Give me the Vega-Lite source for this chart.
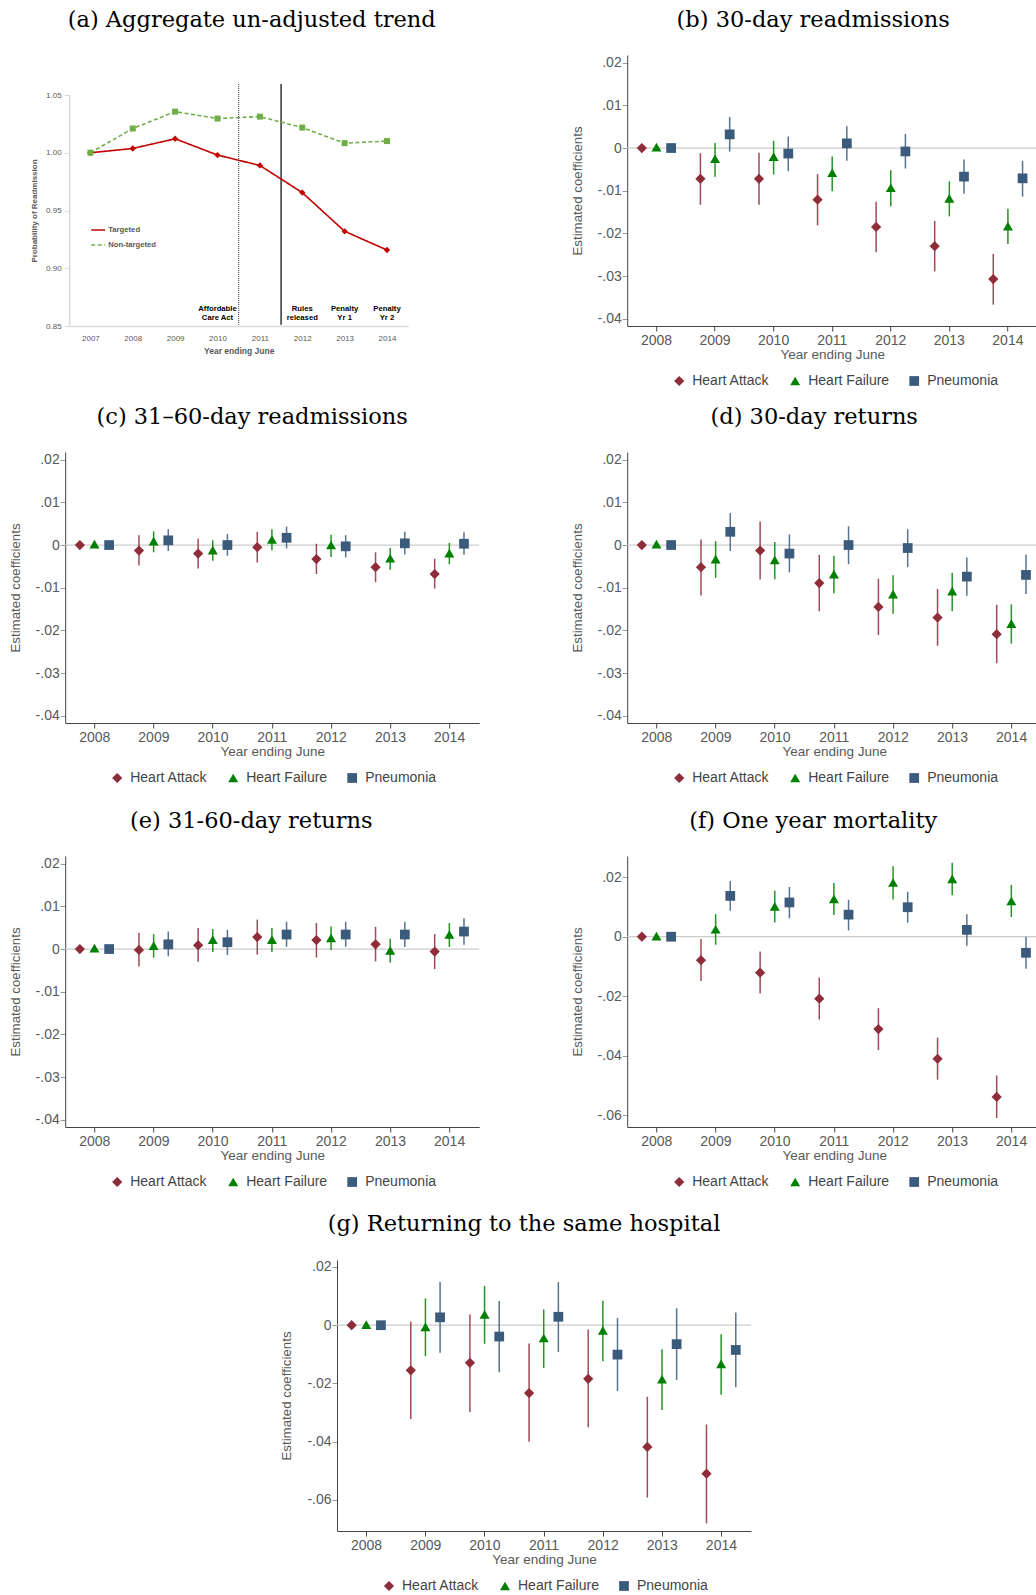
{
  "$schema": "https://vega.github.io/schema/vega-lite/v6.json",
  "padding": {"left": 8, "top": 8, "right": 0, "bottom": 0},
  "background": "white",
  "center": true,
  "spacing": 17,
  "resolve": {"scale": {"color": "independent", "shape": "independent", "size": "independent", "strokeDash": "independent"}, "legend": {"color": "independent", "shape": "independent", "strokeDash": "independent"}},
  "config": {
    "font": "Liberation Sans",
    "view": {"stroke": null},
    "title": {"font": "DejaVu Serif", "fontSize": 22.5, "fontWeight": "normal", "color": "#000000", "offset": 24},
    "axis": {"grid": false, "labelFont": "Liberation Sans", "titleFont": "Liberation Sans", "domainColor": "#444444", "tickColor": "#444444", "labelColor": "#595959", "titleColor": "#595959", "titleFontWeight": "normal"},
    "legend": {"padding": 0}
  },
  "datasets": {
    "trend": [
      {"year": 2007, "series": "Targeted", "value": 1.000},
      {"year": 2008, "series": "Targeted", "value": 1.0037},
      {"year": 2009, "series": "Targeted", "value": 1.0121},
      {"year": 2010, "series": "Targeted", "value": 0.998},
      {"year": 2011, "series": "Targeted", "value": 0.989},
      {"year": 2012, "series": "Targeted", "value": 0.9655},
      {"year": 2013, "series": "Targeted", "value": 0.932},
      {"year": 2014, "series": "Targeted", "value": 0.9158},
      {"year": 2007, "series": "Non-targeted", "value": 1.000},
      {"year": 2008, "series": "Non-targeted", "value": 1.021},
      {"year": 2009, "series": "Non-targeted", "value": 1.0356},
      {"year": 2010, "series": "Non-targeted", "value": 1.0296},
      {"year": 2011, "series": "Non-targeted", "value": 1.0313},
      {"year": 2012, "series": "Non-targeted", "value": 1.0218},
      {"year": 2013, "series": "Non-targeted", "value": 1.0083},
      {"year": 2014, "series": "Non-targeted", "value": 1.0101}
    ],
    "events": [
      {"x": 2010.5, "kind": "aca"},
      {"x": 2011.5, "kind": "rules"}
    ],
    "notes": [
      {"year": 2010, "label": ["Affordable", "Care Act"]},
      {"year": 2012, "label": ["Rules", "released"]},
      {"year": 2013, "label": ["Penalty", "Yr 1"]},
      {"year": 2014, "label": ["Penalty", "Yr 2"]}
    ],
    "coef": [
      {"p": "b", "year": "2008", "cond": "Heart Attack", "est": 0, "lo": 0, "hi": 0},
      {"p": "b", "year": "2008", "cond": "Heart Failure", "est": 0.0002, "lo": 0.0002, "hi": 0.0002},
      {"p": "b", "year": "2008", "cond": "Pneumonia", "est": 0, "lo": 0, "hi": 0},
      {"p": "b", "year": "2009", "cond": "Heart Attack", "est": -0.0072, "lo": -0.0133, "hi": -0.0012},
      {"p": "b", "year": "2009", "cond": "Heart Failure", "est": -0.0025, "lo": -0.0067, "hi": 0.0012},
      {"p": "b", "year": "2009", "cond": "Pneumonia", "est": 0.0032, "lo": -0.0008, "hi": 0.0073},
      {"p": "b", "year": "2010", "cond": "Heart Attack", "est": -0.0072, "lo": -0.0133, "hi": -0.0011},
      {"p": "b", "year": "2010", "cond": "Heart Failure", "est": -0.0020, "lo": -0.0062, "hi": 0.0017},
      {"p": "b", "year": "2010", "cond": "Pneumonia", "est": -0.0013, "lo": -0.0054, "hi": 0.0027},
      {"p": "b", "year": "2011", "cond": "Heart Attack", "est": -0.0121, "lo": -0.0181, "hi": -0.0061},
      {"p": "b", "year": "2011", "cond": "Heart Failure", "est": -0.0058, "lo": -0.0101, "hi": -0.0020},
      {"p": "b", "year": "2011", "cond": "Pneumonia", "est": 0.0011, "lo": -0.0030, "hi": 0.0051},
      {"p": "b", "year": "2012", "cond": "Heart Attack", "est": -0.0185, "lo": -0.0244, "hi": -0.0126},
      {"p": "b", "year": "2012", "cond": "Heart Failure", "est": -0.0093, "lo": -0.0137, "hi": -0.0052},
      {"p": "b", "year": "2012", "cond": "Pneumonia", "est": -0.0008, "lo": -0.0048, "hi": 0.0033},
      {"p": "b", "year": "2013", "cond": "Heart Attack", "est": -0.0230, "lo": -0.0289, "hi": -0.0171},
      {"p": "b", "year": "2013", "cond": "Heart Failure", "est": -0.0118, "lo": -0.0160, "hi": -0.0078},
      {"p": "b", "year": "2013", "cond": "Pneumonia", "est": -0.0067, "lo": -0.0107, "hi": -0.0027},
      {"p": "b", "year": "2014", "cond": "Heart Attack", "est": -0.0307, "lo": -0.0367, "hi": -0.0248},
      {"p": "b", "year": "2014", "cond": "Heart Failure", "est": -0.0183, "lo": -0.0225, "hi": -0.0142},
      {"p": "b", "year": "2014", "cond": "Pneumonia", "est": -0.0071, "lo": -0.0114, "hi": -0.0030},

      {"p": "c", "year": "2008", "cond": "Heart Attack", "est": 0, "lo": 0, "hi": 0},
      {"p": "c", "year": "2008", "cond": "Heart Failure", "est": 0.0002, "lo": 0.0002, "hi": 0.0002},
      {"p": "c", "year": "2008", "cond": "Pneumonia", "est": 0, "lo": 0, "hi": 0},
      {"p": "c", "year": "2009", "cond": "Heart Attack", "est": -0.0013, "lo": -0.0048, "hi": 0.0023},
      {"p": "c", "year": "2009", "cond": "Heart Failure", "est": 0.0009, "lo": -0.0017, "hi": 0.0032},
      {"p": "c", "year": "2009", "cond": "Pneumonia", "est": 0.0011, "lo": -0.0014, "hi": 0.0037},
      {"p": "c", "year": "2010", "cond": "Heart Attack", "est": -0.0020, "lo": -0.0055, "hi": 0.0015},
      {"p": "c", "year": "2010", "cond": "Heart Failure", "est": -0.0012, "lo": -0.0037, "hi": 0.0011},
      {"p": "c", "year": "2010", "cond": "Pneumonia", "est": 0.0000, "lo": -0.0025, "hi": 0.0026},
      {"p": "c", "year": "2011", "cond": "Heart Attack", "est": -0.0005, "lo": -0.0041, "hi": 0.0031},
      {"p": "c", "year": "2011", "cond": "Heart Failure", "est": 0.0013, "lo": -0.0012, "hi": 0.0037},
      {"p": "c", "year": "2011", "cond": "Pneumonia", "est": 0.0017, "lo": -0.0008, "hi": 0.0043},
      {"p": "c", "year": "2012", "cond": "Heart Attack", "est": -0.0033, "lo": -0.0068, "hi": 0.0003},
      {"p": "c", "year": "2012", "cond": "Heart Failure", "est": 0.0000, "lo": -0.0028, "hi": 0.0024},
      {"p": "c", "year": "2012", "cond": "Pneumonia", "est": -0.0003, "lo": -0.0029, "hi": 0.0023},
      {"p": "c", "year": "2013", "cond": "Heart Attack", "est": -0.0052, "lo": -0.0087, "hi": -0.0017},
      {"p": "c", "year": "2013", "cond": "Heart Failure", "est": -0.0031, "lo": -0.0058, "hi": -0.0007},
      {"p": "c", "year": "2013", "cond": "Pneumonia", "est": 0.0004, "lo": -0.0022, "hi": 0.0031},
      {"p": "c", "year": "2014", "cond": "Heart Attack", "est": -0.0068, "lo": -0.0102, "hi": -0.0032},
      {"p": "c", "year": "2014", "cond": "Heart Failure", "est": -0.0019, "lo": -0.0045, "hi": 0.0005},
      {"p": "c", "year": "2014", "cond": "Pneumonia", "est": 0.0003, "lo": -0.0023, "hi": 0.0030},

      {"p": "d", "year": "2008", "cond": "Heart Attack", "est": 0, "lo": 0, "hi": 0},
      {"p": "d", "year": "2008", "cond": "Heart Failure", "est": 0.0002, "lo": 0.0002, "hi": 0.0002},
      {"p": "d", "year": "2008", "cond": "Pneumonia", "est": 0, "lo": 0, "hi": 0},
      {"p": "d", "year": "2009", "cond": "Heart Attack", "est": -0.0052, "lo": -0.0118, "hi": 0.0013},
      {"p": "d", "year": "2009", "cond": "Heart Failure", "est": -0.0033, "lo": -0.0077, "hi": 0.0009},
      {"p": "d", "year": "2009", "cond": "Pneumonia", "est": 0.0031, "lo": -0.0014, "hi": 0.0075},
      {"p": "d", "year": "2010", "cond": "Heart Attack", "est": -0.0013, "lo": -0.0081, "hi": 0.0055},
      {"p": "d", "year": "2010", "cond": "Heart Failure", "est": -0.0035, "lo": -0.0080, "hi": 0.0007},
      {"p": "d", "year": "2010", "cond": "Pneumonia", "est": -0.0020, "lo": -0.0064, "hi": 0.0025},
      {"p": "d", "year": "2011", "cond": "Heart Attack", "est": -0.0089, "lo": -0.0155, "hi": -0.0023},
      {"p": "d", "year": "2011", "cond": "Heart Failure", "est": -0.0068, "lo": -0.0113, "hi": -0.0025},
      {"p": "d", "year": "2011", "cond": "Pneumonia", "est": 0.0000, "lo": -0.0045, "hi": 0.0044},
      {"p": "d", "year": "2012", "cond": "Heart Attack", "est": -0.0145, "lo": -0.0211, "hi": -0.0079},
      {"p": "d", "year": "2012", "cond": "Heart Failure", "est": -0.0115, "lo": -0.0161, "hi": -0.0071},
      {"p": "d", "year": "2012", "cond": "Pneumonia", "est": -0.0007, "lo": -0.0052, "hi": 0.0037},
      {"p": "d", "year": "2013", "cond": "Heart Attack", "est": -0.0170, "lo": -0.0236, "hi": -0.0103},
      {"p": "d", "year": "2013", "cond": "Heart Failure", "est": -0.0108, "lo": -0.0155, "hi": -0.0065},
      {"p": "d", "year": "2013", "cond": "Pneumonia", "est": -0.0074, "lo": -0.0119, "hi": -0.0029},
      {"p": "d", "year": "2014", "cond": "Heart Attack", "est": -0.0209, "lo": -0.0277, "hi": -0.0140},
      {"p": "d", "year": "2014", "cond": "Heart Failure", "est": -0.0184, "lo": -0.0231, "hi": -0.0139},
      {"p": "d", "year": "2014", "cond": "Pneumonia", "est": -0.0070, "lo": -0.0115, "hi": -0.0023},

      {"p": "e", "year": "2008", "cond": "Heart Attack", "est": 0, "lo": 0, "hi": 0},
      {"p": "e", "year": "2008", "cond": "Heart Failure", "est": 0.0002, "lo": 0.0002, "hi": 0.0002},
      {"p": "e", "year": "2008", "cond": "Pneumonia", "est": 0, "lo": 0, "hi": 0},
      {"p": "e", "year": "2009", "cond": "Heart Attack", "est": -0.0002, "lo": -0.0041, "hi": 0.0038},
      {"p": "e", "year": "2009", "cond": "Heart Failure", "est": 0.0008, "lo": -0.0020, "hi": 0.0035},
      {"p": "e", "year": "2009", "cond": "Pneumonia", "est": 0.0011, "lo": -0.0017, "hi": 0.0041},
      {"p": "e", "year": "2010", "cond": "Heart Attack", "est": 0.0009, "lo": -0.0030, "hi": 0.0049},
      {"p": "e", "year": "2010", "cond": "Heart Failure", "est": 0.0022, "lo": -0.0007, "hi": 0.0047},
      {"p": "e", "year": "2010", "cond": "Pneumonia", "est": 0.0016, "lo": -0.0014, "hi": 0.0045},
      {"p": "e", "year": "2011", "cond": "Heart Attack", "est": 0.0028, "lo": -0.0013, "hi": 0.0069},
      {"p": "e", "year": "2011", "cond": "Heart Failure", "est": 0.0022, "lo": -0.0007, "hi": 0.0049},
      {"p": "e", "year": "2011", "cond": "Pneumonia", "est": 0.0034, "lo": 0.0005, "hi": 0.0064},
      {"p": "e", "year": "2012", "cond": "Heart Attack", "est": 0.0021, "lo": -0.0020, "hi": 0.0061},
      {"p": "e", "year": "2012", "cond": "Heart Failure", "est": 0.0026, "lo": -0.0002, "hi": 0.0053},
      {"p": "e", "year": "2012", "cond": "Pneumonia", "est": 0.0034, "lo": 0.0005, "hi": 0.0064},
      {"p": "e", "year": "2013", "cond": "Heart Attack", "est": 0.0011, "lo": -0.0029, "hi": 0.0052},
      {"p": "e", "year": "2013", "cond": "Heart Failure", "est": -0.0003, "lo": -0.0032, "hi": 0.0024},
      {"p": "e", "year": "2013", "cond": "Pneumonia", "est": 0.0034, "lo": 0.0005, "hi": 0.0064},
      {"p": "e", "year": "2014", "cond": "Heart Attack", "est": -0.0006, "lo": -0.0047, "hi": 0.0035},
      {"p": "e", "year": "2014", "cond": "Heart Failure", "est": 0.0034, "lo": 0.0005, "hi": 0.0061},
      {"p": "e", "year": "2014", "cond": "Pneumonia", "est": 0.0041, "lo": 0.0010, "hi": 0.0072},

      {"p": "f", "year": "2008", "cond": "Heart Attack", "est": 0, "lo": 0, "hi": 0},
      {"p": "f", "year": "2008", "cond": "Heart Failure", "est": 0.0002, "lo": 0.0002, "hi": 0.0002},
      {"p": "f", "year": "2008", "cond": "Pneumonia", "est": 0, "lo": 0, "hi": 0},
      {"p": "f", "year": "2009", "cond": "Heart Attack", "est": -0.0079, "lo": -0.0149, "hi": -0.0008},
      {"p": "f", "year": "2009", "cond": "Heart Failure", "est": 0.0025, "lo": -0.0027, "hi": 0.0076},
      {"p": "f", "year": "2009", "cond": "Pneumonia", "est": 0.0137, "lo": 0.0087, "hi": 0.0187},
      {"p": "f", "year": "2010", "cond": "Heart Attack", "est": -0.0121, "lo": -0.0191, "hi": -0.0050},
      {"p": "f", "year": "2010", "cond": "Heart Failure", "est": 0.0102, "lo": 0.0048, "hi": 0.0154},
      {"p": "f", "year": "2010", "cond": "Pneumonia", "est": 0.0115, "lo": 0.0062, "hi": 0.0167},
      {"p": "f", "year": "2011", "cond": "Heart Attack", "est": -0.0208, "lo": -0.0278, "hi": -0.0137},
      {"p": "f", "year": "2011", "cond": "Heart Failure", "est": 0.0127, "lo": 0.0073, "hi": 0.0180},
      {"p": "f", "year": "2011", "cond": "Pneumonia", "est": 0.0074, "lo": 0.0021, "hi": 0.0124},
      {"p": "f", "year": "2012", "cond": "Heart Attack", "est": -0.0310, "lo": -0.0381, "hi": -0.0240},
      {"p": "f", "year": "2012", "cond": "Heart Failure", "est": 0.0182, "lo": 0.0125, "hi": 0.0237},
      {"p": "f", "year": "2012", "cond": "Pneumonia", "est": 0.0099, "lo": 0.0047, "hi": 0.0151},
      {"p": "f", "year": "2013", "cond": "Heart Attack", "est": -0.0410, "lo": -0.0480, "hi": -0.0339},
      {"p": "f", "year": "2013", "cond": "Heart Failure", "est": 0.0194, "lo": 0.0139, "hi": 0.0248},
      {"p": "f", "year": "2013", "cond": "Pneumonia", "est": 0.0023, "lo": -0.0030, "hi": 0.0075},
      {"p": "f", "year": "2014", "cond": "Heart Attack", "est": -0.0538, "lo": -0.0609, "hi": -0.0466},
      {"p": "f", "year": "2014", "cond": "Heart Failure", "est": 0.0120, "lo": 0.0066, "hi": 0.0174},
      {"p": "f", "year": "2014", "cond": "Pneumonia", "est": -0.0054, "lo": -0.0108, "hi": 0.0000},

      {"p": "g", "year": "2008", "cond": "Heart Attack", "est": 0, "lo": 0, "hi": 0},
      {"p": "g", "year": "2008", "cond": "Heart Failure", "est": 0.0002, "lo": 0.0002, "hi": 0.0002},
      {"p": "g", "year": "2008", "cond": "Pneumonia", "est": 0, "lo": 0, "hi": 0},
      {"p": "g", "year": "2009", "cond": "Heart Attack", "est": -0.0155, "lo": -0.0322, "hi": 0.0013},
      {"p": "g", "year": "2009", "cond": "Heart Failure", "est": -0.0006, "lo": -0.0106, "hi": 0.0092},
      {"p": "g", "year": "2009", "cond": "Pneumonia", "est": 0.0027, "lo": -0.0095, "hi": 0.0148},
      {"p": "g", "year": "2010", "cond": "Heart Attack", "est": -0.0129, "lo": -0.0298, "hi": 0.0037},
      {"p": "g", "year": "2010", "cond": "Heart Failure", "est": 0.0037, "lo": -0.0064, "hi": 0.0135},
      {"p": "g", "year": "2010", "cond": "Pneumonia", "est": -0.0039, "lo": -0.0162, "hi": 0.0083},
      {"p": "g", "year": "2011", "cond": "Heart Attack", "est": -0.0233, "lo": -0.0400, "hi": -0.0063},
      {"p": "g", "year": "2011", "cond": "Heart Failure", "est": -0.0044, "lo": -0.0147, "hi": 0.0054},
      {"p": "g", "year": "2011", "cond": "Pneumonia", "est": 0.0029, "lo": -0.0092, "hi": 0.0148},
      {"p": "g", "year": "2012", "cond": "Heart Attack", "est": -0.0184, "lo": -0.0351, "hi": -0.0015},
      {"p": "g", "year": "2012", "cond": "Heart Failure", "est": -0.0018, "lo": -0.0124, "hi": 0.0084},
      {"p": "g", "year": "2012", "cond": "Pneumonia", "est": -0.0101, "lo": -0.0226, "hi": 0.0025},
      {"p": "g", "year": "2013", "cond": "Heart Attack", "est": -0.0418, "lo": -0.0592, "hi": -0.0246},
      {"p": "g", "year": "2013", "cond": "Heart Failure", "est": -0.0185, "lo": -0.0291, "hi": -0.0083},
      {"p": "g", "year": "2013", "cond": "Pneumonia", "est": -0.0065, "lo": -0.0188, "hi": 0.0058},
      {"p": "g", "year": "2014", "cond": "Heart Attack", "est": -0.0510, "lo": -0.0681, "hi": -0.0341},
      {"p": "g", "year": "2014", "cond": "Heart Failure", "est": -0.0133, "lo": -0.0239, "hi": -0.0031},
      {"p": "g", "year": "2014", "cond": "Pneumonia", "est": -0.0085, "lo": -0.0213, "hi": 0.0044}
    ]
  },
  "vconcat": [
    {
      "hconcat": [
        {
          "width": 339, "height": 271,
          "title": {"text": "(a) Aggregate un-adjusted trend", "dx": 13},
          "layer": [
            {
              "data": {"name": "events"},
              "transform": [{"filter": "datum.kind == 'aca'"}],
              "mark": {"type": "rule", "color": "#333333", "strokeWidth": 1, "strokeDash": [1, 1]},
              "encoding": {
                "x": {"field": "x", "type": "quantitative"},
                "y": {"datum": 1.0595},
                "y2": {"datum": 0.851}
              }
            },
            {
              "data": {"name": "events"},
              "transform": [{"filter": "datum.kind == 'rules'"}],
              "mark": {"type": "rule", "color": "#000000", "strokeWidth": 1.2},
              "encoding": {
                "x": {"field": "x", "type": "quantitative"},
                "y": {"datum": 1.0595},
                "y2": {"datum": 0.851}
              }
            },
            {
              "data": {"name": "trend"},
              "mark": {"type": "line", "strokeWidth": 1.6},
              "encoding": {
                "x": {"field": "year", "type": "quantitative",
                  "scale": {"domain": [2006.5, 2014.5], "nice": false, "zero": false},
                  "axis": {"title": "Year ending June", "values": [2007, 2008, 2009, 2010, 2011, 2012, 2013, 2014], "format": "d", "ticks": false, "labelPadding": 8, "labelFontSize": 8, "labelColor": "#595959", "domainColor": "#d9d9d9", "domainWidth": 1.5, "titleFontSize": 8.5, "titleFontWeight": "bold", "titleColor": "#595959", "titlePadding": 4}},
                "y": {"field": "value", "type": "quantitative",
                  "scale": {"domain": [0.85, 1.05], "range": [271, 40], "nice": false, "zero": false},
                  "axis": {"title": [" ", " ", "Probability of Readmission"], "titleLineHeight": 11, "values": [0.85, 0.9, 0.95, 1.0, 1.05], "format": ".2f", "tickSize": 5, "tickColor": "#d9d9d9", "labelPadding": 3, "labelFontSize": 8, "labelColor": "#595959", "domainColor": "#d9d9d9", "domainWidth": 1.5, "titleFontSize": 8, "titleFontWeight": "bold", "titleColor": "#595959", "titlePadding": -4}},
                "color": {"field": "series", "type": "nominal",
                  "scale": {"domain": ["Targeted", "Non-targeted"], "range": ["#C00000", "#70AD47"]},
                  "legend": {"orient": "none", "legendX": 21, "legendY": 167, "title": null, "direction": "vertical", "symbolType": "stroke",
                    "symbolSize": 196, "symbolStrokeWidth": 1.5, "labelFontSize": 7.7, "labelFontWeight": "bold", "labelColor": "#595959", "labelOffset": 2, "rowPadding": 3}},
                "strokeDash": {"field": "series", "type": "nominal",
                  "scale": {"domain": ["Targeted", "Non-targeted"], "range": [[1, 0], [4, 2.5]]},
                  "legend": {"orient": "none", "legendX": 21, "legendY": 167, "title": null, "direction": "vertical", "symbolType": "stroke",
                    "symbolSize": 196, "symbolStrokeWidth": 1.5, "labelFontSize": 7.7, "labelFontWeight": "bold", "labelColor": "#595959", "labelOffset": 2, "rowPadding": 3}}
              }
            },
            {
              "data": {"name": "trend"},
              "transform": [{"filter": "datum.series == 'Targeted'"}],
              "mark": {"type": "point", "filled": true, "opacity": 1, "shape": "diamond", "size": 40, "color": "#C00000"},
              "encoding": {
                "x": {"field": "year", "type": "quantitative"},
                "y": {"field": "value", "type": "quantitative"}
              }
            },
            {
              "data": {"name": "trend"},
              "transform": [{"filter": "datum.series == 'Non-targeted'"}],
              "mark": {"type": "point", "filled": true, "opacity": 1, "shape": "square", "size": 36, "color": "#70AD47"},
              "encoding": {
                "x": {"field": "year", "type": "quantitative"},
                "y": {"field": "value", "type": "quantitative"}
              }
            },
            {
              "data": {"name": "notes"},
              "mark": {"type": "text", "fontWeight": "bold", "fontSize": 7.7, "baseline": "top", "lineHeight": 9, "color": "#000000", "align": "center"},
              "encoding": {
                "x": {"field": "year", "type": "quantitative"},
                "y": {"datum": 0.8685},
                "text": {"field": "label"}
              }
            }
          ]
        },
        {
          "width": 410, "height": 271,
          "title": {"text": "(b) 30-day readmissions", "dx": -19},
          "layer": [
            {"data": {"values": [{}]}, "mark": {"type": "rule", "color": "#cccccc", "strokeWidth": 1.2}, "encoding": {"y": {"datum": 0, "type": "quantitative"}}},
            {"data": {"name": "coef"}, "transform": [{"filter": "datum.p == 'b'"}],
              "mark": {"type": "rule", "strokeWidth": 1.5, "opacity": 0.85},
              "encoding": {
                "x": {"field": "year", "type": "ordinal", "scale": {"paddingInner": 0, "paddingOuter": -0.04, "align": 0}, "axis": {"title": "Year ending June", "labelAngle": 0, "labelFontSize": 14, "labelPadding": 2, "tickSize": 5, "titleFontSize": 13.5, "titlePadding": 0}},
                "xOffset": {"field": "cond", "type": "nominal", "scale": {"domain": ["Heart Attack", "Heart Failure", "Pneumonia"], "paddingInner": 0, "paddingOuter": 0.5}},
                "y": {"field": "lo", "type": "quantitative", "scale": {"domain": [-0.0417, 0.0218], "nice": false, "zero": false}, "axis": {"title": "Estimated coefficients", "values": [-0.04, -0.03, -0.02, -0.01, 0, 0.01, 0.02], "labelExpr": "datum.value == 0 ? '0' : (datum.value < 0 ? '-' : '') + replace(format(abs(datum.value), '.2f'), '0.', '.')", "labelFontSize": 14, "labelPadding": 1, "tickSize": 5, "tickColor": "#999999", "titleFontSize": 13.3, "titlePadding": 13}},
                "y2": {"field": "hi"},
                "stroke": {"field": "cond", "type": "nominal", "scale": {"domain": ["Heart Attack", "Heart Failure", "Pneumonia"], "range": ["#8E2C3A", "#008000", "#3B5B7C"]}, "legend": null}
              }
            },
            {"data": {"name": "coef"}, "transform": [{"filter": "datum.p == 'b'"}],
              "mark": {"type": "point", "filled": true, "opacity": 1},
              "encoding": {
                "x": {"field": "year", "type": "ordinal"},
                "xOffset": {"field": "cond", "type": "nominal"},
                "y": {"field": "est", "type": "quantitative"},
                "color": {"field": "cond", "type": "nominal", "scale": {"domain": ["Heart Attack", "Heart Failure", "Pneumonia"], "range": ["#8E2C3A", "#008000", "#3B5B7C"]}, "legend": {"orient": "none", "direction": "horizontal", "legendX": 45, "legendY": 319, "title": null, "labelFontSize": 14, "labelColor": "#444444", "symbolSize": 45, "labelOffset": 6, "columnPadding": 18}},
                "shape": {"field": "cond", "type": "nominal", "scale": {"domain": ["Heart Attack", "Heart Failure", "Pneumonia"], "range": ["diamond", "triangle-up", "square"]}, "legend": {"orient": "none", "direction": "horizontal", "legendX": 45, "legendY": 319, "title": null, "labelFontSize": 14, "labelColor": "#444444", "symbolSize": 45, "labelOffset": 6, "columnPadding": 18}},
                "size": {"field": "cond", "type": "nominal", "scale": {"domain": ["Heart Attack", "Heart Failure", "Pneumonia"], "range": [105, 95, 72]}, "legend": null}
              }
            }
          ]
        }
      ],
      "spacing": 133,
      "resolve": {"scale": {"color": "independent", "shape": "independent", "size": "independent", "strokeDash": "independent"}, "legend": {"color": "independent", "shape": "independent", "strokeDash": "independent"}}
    },
    {
      "hconcat": [
        {
          "width": 414, "height": 271,
          "title": {"text": "(c) 31–60-day readmissions", "dx": -20},
          "layer": [
            {"data": {"values": [{}]}, "mark": {"type": "rule", "color": "#cccccc", "strokeWidth": 1.2}, "encoding": {"y": {"datum": 0, "type": "quantitative"}}},
            {"data": {"name": "coef"}, "transform": [{"filter": "datum.p == 'c'"}],
              "mark": {"type": "rule", "strokeWidth": 1.5, "opacity": 0.85},
              "encoding": {
                "x": {"field": "year", "type": "ordinal", "scale": {"paddingInner": 0, "paddingOuter": 0}, "axis": {"title": "Year ending June", "labelAngle": 0, "labelFontSize": 14, "labelPadding": 2, "tickSize": 5, "titleFontSize": 13.5, "titlePadding": 0}},
                "xOffset": {"field": "cond", "type": "nominal", "scale": {"domain": ["Heart Attack", "Heart Failure", "Pneumonia"], "paddingInner": 0, "paddingOuter": 0.5}},
                "y": {"field": "lo", "type": "quantitative", "scale": {"domain": [-0.0417, 0.0218], "nice": false, "zero": false}, "axis": {"title": "Estimated coefficients", "values": [-0.04, -0.03, -0.02, -0.01, 0, 0.01, 0.02], "labelExpr": "datum.value == 0 ? '0' : (datum.value < 0 ? '-' : '') + replace(format(abs(datum.value), '.2f'), '0.', '.')", "labelFontSize": 14, "labelPadding": 1, "tickSize": 5, "tickColor": "#999999", "titleFontSize": 13.3, "titlePadding": 13}},
                "y2": {"field": "hi"},
                "stroke": {"field": "cond", "type": "nominal", "scale": {"domain": ["Heart Attack", "Heart Failure", "Pneumonia"], "range": ["#8E2C3A", "#008000", "#3B5B7C"]}, "legend": null}
              }
            },
            {"data": {"name": "coef"}, "transform": [{"filter": "datum.p == 'c'"}],
              "mark": {"type": "point", "filled": true, "opacity": 1},
              "encoding": {
                "x": {"field": "year", "type": "ordinal"},
                "xOffset": {"field": "cond", "type": "nominal"},
                "y": {"field": "est", "type": "quantitative"},
                "color": {"field": "cond", "type": "nominal", "scale": {"domain": ["Heart Attack", "Heart Failure", "Pneumonia"], "range": ["#8E2C3A", "#008000", "#3B5B7C"]}, "legend": {"orient": "none", "direction": "horizontal", "legendX": 38, "legendY": 312, "padding": 7, "title": null, "labelFontSize": 14, "labelColor": "#444444", "symbolSize": 45, "labelOffset": 6, "columnPadding": 18}},
                "shape": {"field": "cond", "type": "nominal", "scale": {"domain": ["Heart Attack", "Heart Failure", "Pneumonia"], "range": ["diamond", "triangle-up", "square"]}, "legend": {"orient": "none", "direction": "horizontal", "legendX": 38, "legendY": 312, "padding": 7, "title": null, "labelFontSize": 14, "labelColor": "#444444", "symbolSize": 45, "labelOffset": 6, "columnPadding": 18}},
                "size": {"field": "cond", "type": "nominal", "scale": {"domain": ["Heart Attack", "Heart Failure", "Pneumonia"], "range": [105, 95, 72]}, "legend": null}
              }
            }
          ]
        },
        {
          "width": 414, "height": 271,
          "title": {"text": "(d) 30-day returns", "dx": -20},
          "layer": [
            {"data": {"values": [{}]}, "mark": {"type": "rule", "color": "#cccccc", "strokeWidth": 1.2}, "encoding": {"y": {"datum": 0, "type": "quantitative"}}},
            {"data": {"name": "coef"}, "transform": [{"filter": "datum.p == 'd'"}],
              "mark": {"type": "rule", "strokeWidth": 1.5, "opacity": 0.85},
              "encoding": {
                "x": {"field": "year", "type": "ordinal", "scale": {"paddingInner": 0, "paddingOuter": 0}, "axis": {"title": "Year ending June", "labelAngle": 0, "labelFontSize": 14, "labelPadding": 2, "tickSize": 5, "titleFontSize": 13.5, "titlePadding": 0}},
                "xOffset": {"field": "cond", "type": "nominal", "scale": {"domain": ["Heart Attack", "Heart Failure", "Pneumonia"], "paddingInner": 0, "paddingOuter": 0.5}},
                "y": {"field": "lo", "type": "quantitative", "scale": {"domain": [-0.0417, 0.0218], "nice": false, "zero": false}, "axis": {"title": "Estimated coefficients", "values": [-0.04, -0.03, -0.02, -0.01, 0, 0.01, 0.02], "labelExpr": "datum.value == 0 ? '0' : (datum.value < 0 ? '-' : '') + replace(format(abs(datum.value), '.2f'), '0.', '.')", "labelFontSize": 14, "labelPadding": 1, "tickSize": 5, "tickColor": "#999999", "titleFontSize": 13.3, "titlePadding": 13}},
                "y2": {"field": "hi"},
                "stroke": {"field": "cond", "type": "nominal", "scale": {"domain": ["Heart Attack", "Heart Failure", "Pneumonia"], "range": ["#8E2C3A", "#008000", "#3B5B7C"]}, "legend": null}
              }
            },
            {"data": {"name": "coef"}, "transform": [{"filter": "datum.p == 'd'"}],
              "mark": {"type": "point", "filled": true, "opacity": 1},
              "encoding": {
                "x": {"field": "year", "type": "ordinal"},
                "xOffset": {"field": "cond", "type": "nominal"},
                "y": {"field": "est", "type": "quantitative"},
                "color": {"field": "cond", "type": "nominal", "scale": {"domain": ["Heart Attack", "Heart Failure", "Pneumonia"], "range": ["#8E2C3A", "#008000", "#3B5B7C"]}, "legend": {"orient": "none", "direction": "horizontal", "legendX": 38, "legendY": 312, "padding": 7, "title": null, "labelFontSize": 14, "labelColor": "#444444", "symbolSize": 45, "labelOffset": 6, "columnPadding": 18}},
                "shape": {"field": "cond", "type": "nominal", "scale": {"domain": ["Heart Attack", "Heart Failure", "Pneumonia"], "range": ["diamond", "triangle-up", "square"]}, "legend": {"orient": "none", "direction": "horizontal", "legendX": 38, "legendY": 312, "padding": 7, "title": null, "labelFontSize": 14, "labelColor": "#444444", "symbolSize": 45, "labelOffset": 6, "columnPadding": 18}},
                "size": {"field": "cond", "type": "nominal", "scale": {"domain": ["Heart Attack", "Heart Failure", "Pneumonia"], "range": [105, 95, 72]}, "legend": null}
              }
            }
          ]
        }
      ],
      "spacing": 89,
      "resolve": {"scale": {"color": "independent", "shape": "independent", "size": "independent"}, "legend": {"color": "independent", "shape": "independent"}}
    },
    {
      "hconcat": [
        {
          "width": 414, "height": 271,
          "title": {"text": "(e) 31-60-day returns", "dx": -21},
          "layer": [
            {"data": {"values": [{}]}, "mark": {"type": "rule", "color": "#cccccc", "strokeWidth": 1.2}, "encoding": {"y": {"datum": 0, "type": "quantitative"}}},
            {"data": {"name": "coef"}, "transform": [{"filter": "datum.p == 'e'"}],
              "mark": {"type": "rule", "strokeWidth": 1.5, "opacity": 0.85},
              "encoding": {
                "x": {"field": "year", "type": "ordinal", "scale": {"paddingInner": 0, "paddingOuter": 0}, "axis": {"title": "Year ending June", "labelAngle": 0, "labelFontSize": 14, "labelPadding": 2, "tickSize": 5, "titleFontSize": 13.5, "titlePadding": 0}},
                "xOffset": {"field": "cond", "type": "nominal", "scale": {"domain": ["Heart Attack", "Heart Failure", "Pneumonia"], "paddingInner": 0, "paddingOuter": 0.5}},
                "y": {"field": "lo", "type": "quantitative", "scale": {"domain": [-0.0417, 0.0218], "nice": false, "zero": false}, "axis": {"title": "Estimated coefficients", "values": [-0.04, -0.03, -0.02, -0.01, 0, 0.01, 0.02], "labelExpr": "datum.value == 0 ? '0' : (datum.value < 0 ? '-' : '') + replace(format(abs(datum.value), '.2f'), '0.', '.')", "labelFontSize": 14, "labelPadding": 1, "tickSize": 5, "tickColor": "#999999", "titleFontSize": 13.3, "titlePadding": 13}},
                "y2": {"field": "hi"},
                "stroke": {"field": "cond", "type": "nominal", "scale": {"domain": ["Heart Attack", "Heart Failure", "Pneumonia"], "range": ["#8E2C3A", "#008000", "#3B5B7C"]}, "legend": null}
              }
            },
            {"data": {"name": "coef"}, "transform": [{"filter": "datum.p == 'e'"}],
              "mark": {"type": "point", "filled": true, "opacity": 1},
              "encoding": {
                "x": {"field": "year", "type": "ordinal"},
                "xOffset": {"field": "cond", "type": "nominal"},
                "y": {"field": "est", "type": "quantitative"},
                "color": {"field": "cond", "type": "nominal", "scale": {"domain": ["Heart Attack", "Heart Failure", "Pneumonia"], "range": ["#8E2C3A", "#008000", "#3B5B7C"]}, "legend": {"orient": "none", "direction": "horizontal", "legendX": 38, "legendY": 312, "padding": 7, "title": null, "labelFontSize": 14, "labelColor": "#444444", "symbolSize": 45, "labelOffset": 6, "columnPadding": 18}},
                "shape": {"field": "cond", "type": "nominal", "scale": {"domain": ["Heart Attack", "Heart Failure", "Pneumonia"], "range": ["diamond", "triangle-up", "square"]}, "legend": {"orient": "none", "direction": "horizontal", "legendX": 38, "legendY": 312, "padding": 7, "title": null, "labelFontSize": 14, "labelColor": "#444444", "symbolSize": 45, "labelOffset": 6, "columnPadding": 18}},
                "size": {"field": "cond", "type": "nominal", "scale": {"domain": ["Heart Attack", "Heart Failure", "Pneumonia"], "range": [105, 95, 72]}, "legend": null}
              }
            }
          ]
        },
        {
          "width": 414, "height": 271,
          "title": {"text": "(f) One year mortality", "dx": -21},
          "layer": [
            {"data": {"values": [{}]}, "mark": {"type": "rule", "color": "#cccccc", "strokeWidth": 1.2}, "encoding": {"y": {"datum": 0, "type": "quantitative"}}},
            {"data": {"name": "coef"}, "transform": [{"filter": "datum.p == 'f'"}],
              "mark": {"type": "rule", "strokeWidth": 1.5, "opacity": 0.85},
              "encoding": {
                "x": {"field": "year", "type": "ordinal", "scale": {"paddingInner": 0, "paddingOuter": 0}, "axis": {"title": "Year ending June", "labelAngle": 0, "labelFontSize": 14, "labelPadding": 2, "tickSize": 5, "titleFontSize": 13.5, "titlePadding": 0}},
                "xOffset": {"field": "cond", "type": "nominal", "scale": {"domain": ["Heart Attack", "Heart Failure", "Pneumonia"], "paddingInner": 0, "paddingOuter": 0.5}},
                "y": {"field": "lo", "type": "quantitative", "scale": {"domain": [-0.0639, 0.0271], "nice": false, "zero": false}, "axis": {"title": "Estimated coefficients", "values": [-0.06, -0.05, -0.04, -0.03, -0.02, -0.01, 0, 0.01, 0.02], "labelExpr": "datum.value == 0 ? '0' : (datum.value < 0 ? '-' : '') + replace(format(abs(datum.value), '.2f'), '0.', '.')", "labelFontSize": 14, "labelPadding": 1, "tickSize": 5, "tickColor": "#999999", "titleFontSize": 13.3, "titlePadding": 13}},
                "y2": {"field": "hi"},
                "stroke": {"field": "cond", "type": "nominal", "scale": {"domain": ["Heart Attack", "Heart Failure", "Pneumonia"], "range": ["#8E2C3A", "#008000", "#3B5B7C"]}, "legend": null}
              }
            },
            {"data": {"name": "coef"}, "transform": [{"filter": "datum.p == 'f'"}],
              "mark": {"type": "point", "filled": true, "opacity": 1},
              "encoding": {
                "x": {"field": "year", "type": "ordinal"},
                "xOffset": {"field": "cond", "type": "nominal"},
                "y": {"field": "est", "type": "quantitative"},
                "color": {"field": "cond", "type": "nominal", "scale": {"domain": ["Heart Attack", "Heart Failure", "Pneumonia"], "range": ["#8E2C3A", "#008000", "#3B5B7C"]}, "legend": {"orient": "none", "direction": "horizontal", "legendX": 38, "legendY": 312, "padding": 7, "title": null, "labelFontSize": 14, "labelColor": "#444444", "symbolSize": 45, "labelOffset": 6, "columnPadding": 18}},
                "shape": {"field": "cond", "type": "nominal", "scale": {"domain": ["Heart Attack", "Heart Failure", "Pneumonia"], "range": ["diamond", "triangle-up", "square"]}, "legend": {"orient": "none", "direction": "horizontal", "legendX": 38, "legendY": 312, "padding": 7, "title": null, "labelFontSize": 14, "labelColor": "#444444", "symbolSize": 45, "labelOffset": 6, "columnPadding": 18}},
                "size": {"field": "cond", "type": "nominal", "scale": {"domain": ["Heart Attack", "Heart Failure", "Pneumonia"], "range": [105, 95, 72]}, "legend": null}
              }
            }
          ]
        }
      ],
      "spacing": 89,
      "resolve": {"scale": {"color": "independent", "shape": "independent", "size": "independent"}, "legend": {"color": "independent", "shape": "independent"}}
    },
    {
      "hconcat": [
        {
          "width": 414, "height": 271,
          "title": {"text": "(g) Returning to the same hospital", "dx": -20},
          "layer": [
            {"data": {"values": [{}]}, "mark": {"type": "rule", "color": "#cccccc", "strokeWidth": 1.2}, "encoding": {"y": {"datum": 0, "type": "quantitative"}}},
            {"data": {"name": "coef"}, "transform": [{"filter": "datum.p == 'g'"}],
              "mark": {"type": "rule", "strokeWidth": 1.5, "opacity": 0.85},
              "encoding": {
                "x": {"field": "year", "type": "ordinal", "scale": {"paddingInner": 0, "paddingOuter": 0}, "axis": {"title": "Year ending June", "labelAngle": 0, "labelFontSize": 14, "labelPadding": 2, "tickSize": 5, "titleFontSize": 13.5, "titlePadding": 0}},
                "xOffset": {"field": "cond", "type": "nominal", "scale": {"domain": ["Heart Attack", "Heart Failure", "Pneumonia"], "paddingInner": 0, "paddingOuter": 0.5}},
                "y": {"field": "lo", "type": "quantitative", "scale": {"domain": [-0.0707, 0.0224], "nice": false, "zero": false}, "axis": {"title": "Estimated coefficients", "values": [-0.06, -0.05, -0.04, -0.03, -0.02, -0.01, 0, 0.01, 0.02], "labelExpr": "datum.value == 0 ? '0' : (datum.value < 0 ? '-' : '') + replace(format(abs(datum.value), '.2f'), '0.', '.')", "labelFontSize": 14, "labelPadding": 1, "tickSize": 5, "tickColor": "#999999", "titleFontSize": 13.3, "titlePadding": 13}},
                "y2": {"field": "hi"},
                "stroke": {"field": "cond", "type": "nominal", "scale": {"domain": ["Heart Attack", "Heart Failure", "Pneumonia"], "range": ["#8E2C3A", "#008000", "#3B5B7C"]}, "legend": null}
              }
            },
            {"data": {"name": "coef"}, "transform": [{"filter": "datum.p == 'g'"}],
              "mark": {"type": "point", "filled": true, "opacity": 1},
              "encoding": {
                "x": {"field": "year", "type": "ordinal"},
                "xOffset": {"field": "cond", "type": "nominal"},
                "y": {"field": "est", "type": "quantitative"},
                "color": {"field": "cond", "type": "nominal", "scale": {"domain": ["Heart Attack", "Heart Failure", "Pneumonia"], "range": ["#8E2C3A", "#008000", "#3B5B7C"]}, "legend": {"orient": "none", "direction": "horizontal", "legendX": 45, "legendY": 319, "title": null, "labelFontSize": 14, "labelColor": "#444444", "symbolSize": 45, "labelOffset": 6, "columnPadding": 18}},
                "shape": {"field": "cond", "type": "nominal", "scale": {"domain": ["Heart Attack", "Heart Failure", "Pneumonia"], "range": ["diamond", "triangle-up", "square"]}, "legend": {"orient": "none", "direction": "horizontal", "legendX": 45, "legendY": 319, "title": null, "labelFontSize": 14, "labelColor": "#444444", "symbolSize": 45, "labelOffset": 6, "columnPadding": 18}},
                "size": {"field": "cond", "type": "nominal", "scale": {"domain": ["Heart Attack", "Heart Failure", "Pneumonia"], "range": [105, 95, 72]}, "legend": null}
              }
            }
          ]
        },
        {
          "width": 18, "height": 271,
          "data": {"values": []},
          "mark": {"type": "point", "opacity": 0},
          "encoding": {}
        }
      ],
      "spacing": 0,
      "resolve": {"scale": {"color": "independent", "shape": "independent", "size": "independent"}, "legend": {"color": "independent", "shape": "independent"}}
    }
  ]
}
